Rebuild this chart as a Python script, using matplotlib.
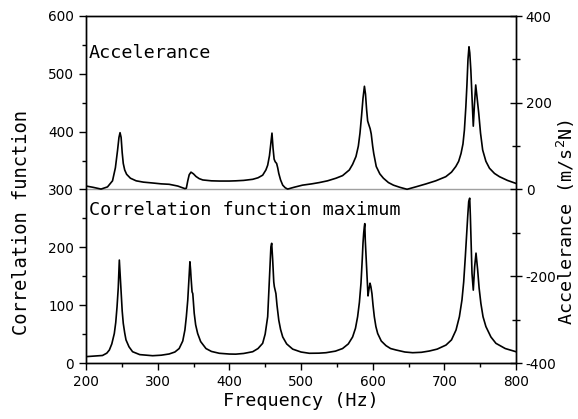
import matplotlib
matplotlib.use("Agg")
import matplotlib.pyplot as plt
from matplotlib.ticker import MultipleLocator

plt.rcParams["axes.unicode_minus"] = False

# Accelerance (right axis, m/s^2N)
acc_freq = [200, 210, 221, 230, 237, 241, 244, 246, 247.5, 249, 250.5, 252, 254, 256.7, 262, 270, 280, 293,
            305, 316, 328, 338, 340, 342, 344, 346.5, 350, 353.5, 358, 363, 375, 386, 400, 409, 420, 432.6,
            440, 446.5, 451, 453.5, 456, 457.5, 459.5, 461, 462.5, 464, 466, 467.5, 469, 471.5, 474.5, 478,
            481.4, 490, 502, 515, 525.6, 537, 548.8, 558, 567.4, 572, 576.7, 580, 582.3, 584.5, 586.5, 588.5,
            590, 591.5, 593, 594.5, 596.5, 598, 600, 601.5, 605, 610, 615, 622, 629, 638, 648, 660, 674, 688,
            702, 710, 716, 720, 723.3, 726, 728, 730, 731.5, 733, 734.4, 735.5, 737, 738.7, 740.4, 742, 743.8,
            745.5, 748, 750.5, 753.5, 758, 763, 770, 777, 788, 800]
acc_val = [8, 5, 1, 6, 20, 50, 90, 120, 131, 120, 85, 60, 45, 35, 26, 20, 17, 15,
           13, 12, 8, 2, 3, 20, 34, 40, 36, 30, 25, 22, 20, 19.5, 19.5, 20, 21, 23.5,
           27, 33, 45, 56, 78, 100, 130, 95, 70, 64, 60, 50, 37, 22, 10, 4,
           1, 5, 10, 13, 16, 20, 26, 32, 45, 58, 76, 100, 130, 170, 210, 238,
           220, 185, 158, 150, 140, 128, 100, 83, 53, 36, 26, 16, 10, 5, 0.5, 6, 12.7, 20,
           29.5, 40, 53, 65, 83, 105, 137, 190, 240, 300, 329, 315, 275, 210, 146, 195, 241,
           215, 176, 130, 91, 65, 49, 37, 29.5, 21, 14]

# Correlation function maximum (left axis)
corr_freq = [200, 212, 223, 229, 232.6, 236, 239.5, 241.5, 243.3, 245, 246.5, 247.3, 248, 249.3, 250.5, 252,
             254, 255.8, 260, 265, 275, 293, 305, 316, 324, 330, 335, 338, 340, 342, 344, 345, 346, 346.5,
             348, 349, 351, 353, 355.8, 360, 367.4, 375, 386, 400, 409, 420, 432.6, 440, 446.5, 450, 453.5,
             456.7, 458, 459.1, 460.5, 462, 462.8, 465, 466.5, 469, 471.5, 474.5, 480, 488.4, 500, 511.6,
             525, 534.9, 548, 558, 566, 572, 576, 579, 581.5, 583.7, 585.5, 586.5, 587.5, 588.4, 589, 589.7,
             591, 592, 593.5, 594.5, 596.3, 597.5, 599, 600.5, 602.3, 604.5, 607, 612, 618.6, 625, 632.6,
             645, 655.8, 668, 679, 690, 702.3, 710, 716.3, 721, 724.6, 727, 729.3, 731, 732.6, 734, 735.4,
             736.3, 737.2, 738.6, 740.4, 742.3, 744.2, 746.5, 748.5, 751, 754, 758, 765, 772, 785, 800]
corr_val = [11, 12, 13, 17, 22.5, 33, 51, 70, 97, 130, 178, 160, 146, 115, 90, 68.6,
            52, 40, 28, 19.5, 14.5, 12.6, 13.5, 15.6, 19, 25, 38, 57, 80, 109, 155, 175, 160, 149,
            123, 120, 86, 66, 51, 37, 25, 20, 16.8, 15.5, 15.3, 16.5, 19.5, 25, 34, 50, 80,
            166, 201, 207, 178, 140, 132, 120, 100, 74, 58, 45, 33, 24, 19, 16.8,
            17, 17.8, 20.5, 25, 33, 45, 60, 80, 105, 138, 180, 207, 225, 236, 241, 212,
            180, 155, 116, 125, 138, 132, 120, 100, 80, 63, 51, 38, 30, 25, 22.5,
            19, 17.8, 18.5, 20.7, 24, 31, 40, 57, 80, 109, 140, 184, 220, 253, 279, 285,
            255, 218, 155, 126, 166.5, 190, 161, 130, 103, 80, 63, 45, 34, 25, 19.5]

fig = plt.figure(figsize=(5.78, 4.19), dpi=100)
ax = fig.add_axes([86/578, 1 - 363/419, 430/578, 347/419])
ax2 = ax.twinx()

ax.plot(corr_freq, corr_val, color="black", lw=1.2)
ax2.plot(acc_freq, acc_val, color="black", lw=1.2)
ax.axhline(300, color="#a0a0a0", lw=1.0, zorder=0)

ax.set_xlim(200, 800)
ax.set_ylim(0, 600)
ax2.set_ylim(-400, 400)

ax.xaxis.set_major_locator(MultipleLocator(100))
ax.xaxis.set_minor_locator(MultipleLocator(50))
ax.yaxis.set_major_locator(MultipleLocator(100))
ax.yaxis.set_minor_locator(MultipleLocator(50))
ax2.yaxis.set_major_locator(MultipleLocator(200))
ax2.yaxis.set_minor_locator(MultipleLocator(100))

ax.tick_params(axis="both", which="major", direction="out", length=5, width=1, labelsize=9.8, top=False)
ax.tick_params(axis="both", which="minor", direction="out", length=3, width=1, top=False)
ax2.tick_params(axis="y", which="major", direction="inout", length=8, width=1, labelsize=9.8, pad=3)
ax2.tick_params(axis="y", which="minor", direction="inout", length=6, width=1)

for a in (ax, ax2):
    for s in a.spines.values():
        s.set_linewidth(1.0)

mono = "DejaVu Sans Mono"
ax.set_xlabel("Frequency (Hz)", family=mono, fontsize=13.3)
ax.xaxis.set_label_coords(0.5, -0.085)
ax.set_ylabel("Correlation function", family=mono, fontsize=13.5)
ax.yaxis.set_label_coords(-0.129, 0.406)
ax2.set_ylabel(r"Accelerance (m/s$^2$N)", family=mono, fontsize=13.2, rotation=90)
ax2.yaxis.set_label_coords(1.09, 0.406)

ax.text(0.007, 0.878, "Accelerance", transform=ax.transAxes, family=mono, fontsize=13.3,
        va="baseline", ha="left")
ax.text(0.007, 0.4265, "Correlation function maximum", transform=ax.transAxes, family=mono, fontsize=13.3,
        va="baseline", ha="left")

fig.savefig("out.png", dpi=100)
